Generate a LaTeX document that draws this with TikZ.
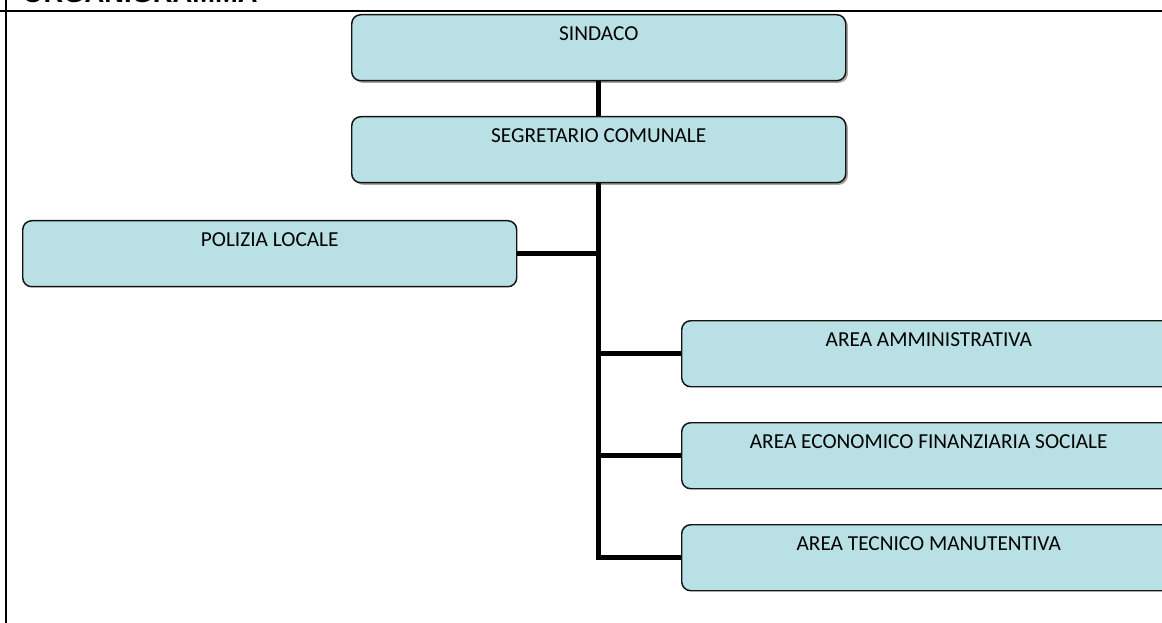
\documentclass[tikz,border=0pt]{standalone}
\usepackage{fontspec}
\setmainfont{Carlito}
\newfontfamily\titlefont{Liberation Sans}
\usetikzlibrary{shadows}
\definecolor{boxfill}{RGB}{185,224,228}
\definecolor{boxline}{RGB}{20,20,20}
\begin{document}
\begin{tikzpicture}[x=0.75pt,y=-0.75pt,
  orgbox/.style={draw=boxline, line width=1.1pt, fill=boxfill, rounded corners=6.75pt,
    minimum width=370.5pt, inner xsep=0pt, inner ysep=0pt,
    text height=19.1pt, text depth=30.4pt, font=\fontsize{16}{19}\selectfont, anchor=north west},
  shadowbox/.style={drop shadow={shadow xshift=1.6pt, shadow yshift=-1.6pt, fill=black, opacity=0.35}},
  conn/.style={line width=3.75pt, black},
  frame/.style={line width=1.5pt, black}]
\useasboundingbox (0,0) rectangle (1162,623);
\clip (0,0) rectangle (1162,623);
% frame and title
\node[anchor=base west, inner sep=0pt, font=\titlefont\bfseries\fontsize{20.5}{24}\selectfont] (title) at (22,2.5) {ORGANIGRAMMA};
\coordinate (fl1) at (0,11.5);
\coordinate (fl2) at (1162,11.5);
\coordinate (fv1) at (6,0);
\coordinate (fv2) at (6,623);
\draw[frame] (fl1) -- (fl2);
\draw[frame] (fv1) -- (fv2);
% boxes
\node[orgbox, shadowbox] (sind) at (351,14) {SINDACO};
\node[orgbox, shadowbox] (seg) at (351,116) {SEGRETARIO COMUNALE};
\node[orgbox] (pol) at (22,220) {POLIZIA LOCALE};
\node[orgbox] (amm) at (681,320) {AREA AMMINISTRATIVA};
\node[orgbox] (eco) at (681,422) {AREA ECONOMICO FINANZIARIA SOCIALE};
\node[orgbox] (tec) at (681,524) {AREA TECNICO MANUTENTIVA};
% connectors
\draw[conn] (sind.south) -- (seg.north);
\draw[conn] (seg.south) |- (tec.west);
\draw[conn] (pol.east) -- (pol.east -| seg.south);
\draw[conn] (amm.west) -- (amm.west -| seg.south);
\draw[conn] (eco.west) -- (eco.west -| seg.south);
\end{tikzpicture}
\end{document}
